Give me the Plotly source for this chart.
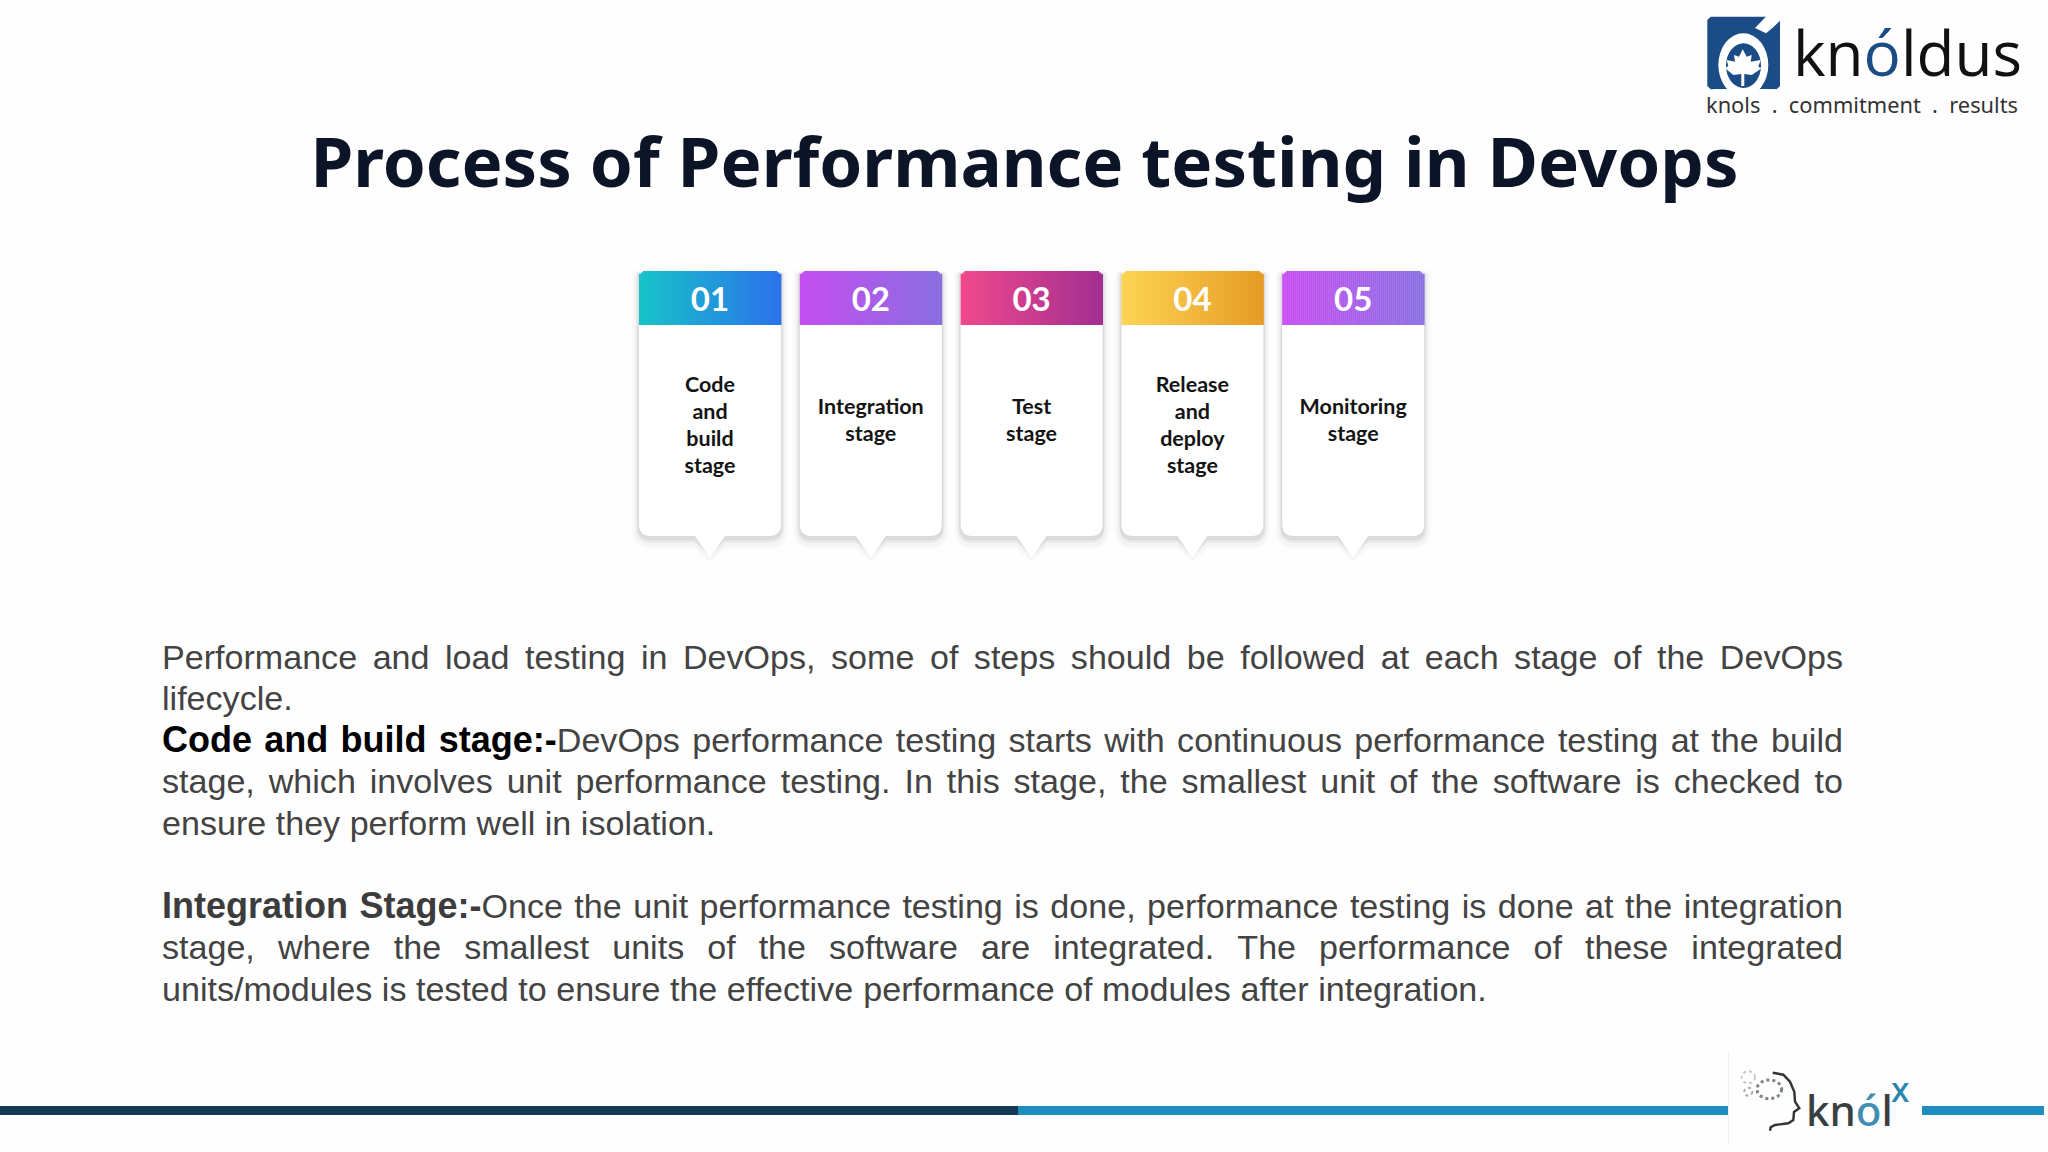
import plotly.graph_objects as go

# slide text
title = "Process of Performance testing in Devops"
card_numbers = ["01", "02", "03", "04", "05"]
card_labels = [["Code", "and", "build", "stage"], ["Integration", "stage"], ["Test", "stage"],
               ["Release", "and", "deploy", "stage"], ["Monitoring", "stage"]]
card_grad_left = ["#17c3c9", "#c44ef0", "#f0498c", "#fdd24d", "#c84ef2"]
card_grad_right = ["#2b72ea", "#8a6ee0", "#a22f92", "#e5981c", "#8a70e2"]

# (bold part, regular part, justified, bold colour)
body_lines = [
    ("", "Performance and load testing in DevOps, some of steps should be followed at each stage of the DevOps", True, ""),
    ("", "lifecycle.", False, ""),
    ("Code and build stage:-", "DevOps performance testing starts with continuous performance testing at the build", True, "#000000"),
    ("", "stage, which involves unit performance testing. In this stage, the smallest unit of the software is checked to", True, ""),
    ("", "ensure they perform well in isolation.", False, ""),
    None,
    ("Integration Stage:-", "Once the unit performance testing is done, performance testing is done at the integration", True, "#3c3c3c"),
    ("", "stage, where the smallest units of the software are integrated. The performance of these integrated", True, ""),
    ("", "units/modules is tested to ensure the effective performance of modules after integration.", False, ""),
]

# Arial advance widths, 1/1000 em
regular_w = dict(zip("abcdefghijklmnopqrstuvwxyz", [556,556,500,556,556,278,556,556,222,222,500,222,833,556,556,556,556,333,500,278,556,500,722,500,500,500]))
regular_w.update({"C":722,"D":722,"I":278,"O":778,"P":667,"S":667,"T":611,"W":944,",":278,".":278,"/":278,":":278,"-":333})
bold_w = dict(zip("abcdefghijklmnopqrstuvwxyz", [556,611,556,611,556,333,611,611,278,278,556,278,889,611,611,611,611,389,556,333,611,556,778,556,556,500]))
bold_w.update({"C":722,"D":722,"I":278,"S":667,":":333,"-":333})

BODY_SIZE = 34.1
BOLD_SIZE = 36
BODY_LEFT, BODY_RIGHT = 162, 1843
BODY_TOP, BODY_PITCH = 660, 41.55
BODY_GREY = "#434343"

CARD_W, CARD_PITCH, CARD_LEFT = 142, 160.8, 639
CARD_TOP, HEAD_BOTTOM, CARD_BOTTOM, TIP_Y = 271, 325, 536, 558
LABEL_PITCH = 27


def word_width(word, table, size):
    return sum(table.get(c, 556) for c in word) * size / 1000


def layout_line(line, y):
    bold, regular, justified, bold_colour = line
    # tokens are [html, width]; the last bold word sticks to the first regular word
    tokens = []
    for w in bold.split():
        tokens.append([f'<b><span style="color:{bold_colour};font-size:{BOLD_SIZE}px">{w}</span></b>', word_width(w, bold_w, BOLD_SIZE)])
    for i, w in enumerate(regular.split()):
        if i == 0 and tokens:
            tokens[-1][0] += w
            tokens[-1][1] += word_width(w, regular_w, BODY_SIZE)
        else:
            tokens.append([w, word_width(w, regular_w, BODY_SIZE)])
    space = 278 * BODY_SIZE / 1000
    if justified:
        space = (BODY_RIGHT - BODY_LEFT - sum(t[1] for t in tokens)) / (len(tokens) - 1)
    xs, ys, texts = [], [], []
    x = BODY_LEFT
    for html, width in tokens:
        xs.append(x)
        ys.append(y)
        texts.append(html)
        x += width + space
    return xs, ys, texts


def card_path(x0, x1, top, bottom, tip, grow=0, dy=0):
    r = 12 + grow
    cx = (x0 + x1) / 2
    x0, x1 = x0 - grow, x1 + grow
    top, bottom, tip = top - grow + dy, bottom + grow + dy, tip + grow + dy
    return (f"M{x0+4},{top} L{x1-4},{top} Q{x1},{top} {x1},{top+4} L{x1},{bottom-r} Q{x1},{bottom} {x1-r},{bottom} "
            f"L{cx+15},{bottom} L{cx},{tip} L{cx-15},{bottom} L{x0+r},{bottom} Q{x0},{bottom} {x0},{bottom-r} "
            f"L{x0},{top+4} Q{x0},{top} {x0+4},{top} Z")


def hex_mix(a, b, t):
    ca = [int(a[i:i+2], 16) for i in (1, 3, 5)]
    cb = [int(b[i:i+2], 16) for i in (1, 3, 5)]
    return "rgb(" + ",".join(str(round(p + (q - p) * t)) for p, q in zip(ca, cb)) + ")"


shapes = []
for i in range(len(card_numbers)):
    x0 = CARD_LEFT + i * CARD_PITCH
    x1 = x0 + CARD_W
    # soft shadow, then the white card
    for grow, dy, alpha in [(7, 6, 0.025), (5, 6, 0.04), (3, 4, 0.07), (1.5, 3, 0.12)]:
        shapes.append(dict(type="path", path=card_path(x0, x1, CARD_TOP, CARD_BOTTOM, TIP_Y - 8, grow, dy),
                           fillcolor=f"rgba(110,110,110,{alpha})", line_width=0, layer="below"))
    shapes.append(dict(type="path", path=card_path(x0, x1, CARD_TOP, CARD_BOTTOM, TIP_Y),
                       fillcolor="#ffffff", line_width=0, layer="below"))
    # gradient header made of thin strips, first and last ones cut for the round corners
    for s in range(0, CARD_W, 2):
        t = s / (CARD_W - 2)
        edge = min(s, CARD_W - 2 - s)
        cut = max(0, 4 - edge) * 0.7
        shapes.append(dict(type="rect", x0=x0 + s, x1=x0 + s + 2.4, y0=CARD_TOP + cut, y1=HEAD_BOTTOM,
                           fillcolor=hex_mix(card_grad_left[i], card_grad_right[i], t), line_width=0, layer="below"))

# bottom rule
shapes.append(dict(type="rect", x0=0, x1=1018, y0=1106, y1=1115, fillcolor="#123a52", line_width=0, layer="below"))
shapes.append(dict(type="rect", x0=1018, x1=1729, y0=1106, y1=1115, fillcolor="#1f8cc0", line_width=0, layer="below"))
shapes.append(dict(type="rect", x0=1922, x1=2044, y0=1106, y1=1115, fillcolor="#1f8cc0", line_width=0, layer="below"))
shapes.append(dict(type="line", x0=1728.5, x1=1728.5, y0=1052, y1=1145, line=dict(color="#f1f1f1", width=1), layer="below"))


def logo_pts(pts, ox, oy):
    return " ".join(("M" if i == 0 else "L") + f"{ox + p[0] / 3:.1f},{oy + p[1] / 3:.1f}" for i, p in enumerate(pts))


# knoldus icon
icon_blue = "#1c4c86"
shapes.append(dict(type="path", fillcolor=icon_blue, line_width=0, layer="below",
                   path=logo_pts([(92, 50), (265, 50), (300, 62), (300, 258), (290, 268), (92, 268), (82, 258), (82, 60)], 1680, 0) + " Z"))
shapes.append(dict(type="path", fillcolor="#ffffff", line_width=0, layer="below",
                   path=logo_pts([(225, 84), (262, 46), (305, 46), (305, 62), (258, 100)], 1680, 0) + " Z"))
shapes.append(dict(type="path", fillcolor=icon_blue, line_width=0, layer="below",
                   path=logo_pts([(300, 62), (300, 110), (262, 100)], 1680, 0) + " Z"))
shapes.append(dict(type="circle", x0=1680 + 115 / 3, x1=1680 + 265 / 3, y0=100 / 3, y1=290 / 3, fillcolor="#ffffff", line_width=0, layer="below"))
shapes.append(dict(type="rect", x0=1680 + 100 / 3, x1=1680 + 290 / 3, y0=268 / 3, y1=300 / 3, fillcolor="#ffffff", line_width=0, layer="below"))
shapes.append(dict(type="circle", x0=1680 + 138 / 3, x1=1680 + 243 / 3, y0=130 / 3, y1=264 / 3, fillcolor=icon_blue, line_width=0, layer="below"))
shapes.append(dict(type="path", fillcolor="#ffffff", line_width=0, layer="below",
                   path=logo_pts([(188, 148), (200, 170), (215, 165), (212, 185), (242, 180), (235, 200), (245, 205), (215, 225),
                                  (193, 222), (193, 258), (184, 258), (184, 222), (160, 225), (135, 205), (145, 198), (140, 180),
                                  (165, 185), (162, 165), (177, 170)], 1680, 0) + " Z"))

# knolx head and gears
shapes.append(dict(type="path", fillcolor="rgba(0,0,0,0)", line=dict(color="#2f3336", width=2.4), layer="below",
                   path=logo_pts([(278, 98), (310, 104), (330, 125), (343, 155), (345, 185), (358, 205), (342, 216), (340, 240),
                                  (325, 250), (285, 255), (272, 262), (270, 272)], 1680, 1040)))
for cx, cy, rx, ry, col, w in [(205, 112, 20, 18, "#c4c8c8", 2), (205, 155, 12, 12, "#a8acac", 2), (268, 148, 37, 28, "#7c8488", 3)]:
    shapes.append(dict(type="circle", x0=1680 + (cx - rx) / 3, x1=1680 + (cx + rx) / 3, y0=1040 + (cy - ry) / 3, y1=1040 + (cy + ry) / 3,
                       line=dict(color=col, width=w, dash="dot"), layer="below"))

fig = go.Figure()

fig.add_trace(go.Scatter(x=[1024.5], y=[170], mode="text", text=[title], textposition="middle center",
                         textfont=dict(family="Noto Sans", size=69, color="#0c1427", weight=700)))

# card numbers and captions
centers = [CARD_LEFT + i * CARD_PITCH + CARD_W / 2 for i in range(len(card_numbers))]
fig.add_trace(go.Scatter(x=centers, y=[303] * len(centers), mode="text", text=card_numbers, textposition="middle center",
                         textfont=dict(family="Lato", size=33, color="#ffffff", weight=700)))
label_x, label_y, label_text = [], [], []
for cx, lines in zip(centers, card_labels):
    mid = 427 if len(lines) == 4 else 422
    for j, txt in enumerate(lines):
        label_x.append(cx)
        label_y.append(mid + (j - (len(lines) - 1) / 2) * LABEL_PITCH)
        label_text.append(txt)
fig.add_trace(go.Scatter(x=label_x, y=label_y, mode="text", text=label_text, textposition="middle center",
                         textfont=dict(family="Lato", size=21.5, color="#141414", weight=700)))

# body text, one element per word so that the lines can be justified
word_x, word_y, word_text = [], [], []
for n, line in enumerate(body_lines):
    if line is None:
        continue
    xs, ys, texts = layout_line(line, BODY_TOP + n * BODY_PITCH)
    word_x += xs
    word_y += ys
    word_text += texts
fig.add_trace(go.Scatter(x=word_x, y=word_y, mode="text", text=word_text, textposition="middle right",
                         textfont=dict(family="Liberation Sans", size=BODY_SIZE, color=BODY_GREY)))

# logo wordmarks
fig.add_trace(go.Scatter(x=[1793], y=[60], mode="text", textposition="middle right",
                         text=['kn<span style="color:#1c4c86">ó</span>ldus'],
                         textfont=dict(family="Open Sans", size=62, color="#111111", weight=400)))
fig.add_trace(go.Scatter(x=[1706], y=[108], mode="text", textposition="middle right",
                         text=["knols\u00a0\u00a0.\u00a0\u00a0commitment\u00a0\u00a0.\u00a0\u00a0results"],
                         textfont=dict(family="Noto Sans", size=21.8, color="#333333")))
fig.add_trace(go.Scatter(x=[1806], y=[1115], mode="text", textposition="middle right",
                         text=['kn<span style="color:#3f8fb5">ó</span>l'],
                         textfont=dict(family="Noto Sans", size=42, color="#3a3f44", weight=500)))
fig.add_trace(go.Scatter(x=[1891], y=[1093], mode="text", textposition="middle right", text=["x"],
                         textfont=dict(family="Noto Sans", size=34, color="#2a86ad", weight=500)))

fig.update_layout(width=2048, height=1152, margin=dict(l=0, r=0, t=0, b=0), showlegend=False,
                  paper_bgcolor="#fefefe", plot_bgcolor="#fefefe", shapes=shapes,
                  xaxis=dict(range=[0, 2048], visible=False, fixedrange=True),
                  yaxis=dict(range=[1152, 0], visible=False, fixedrange=True))

fig.write_html("out.html", config=dict(displayModeBar=False),
               post_script="document.body.style.margin='0';")
